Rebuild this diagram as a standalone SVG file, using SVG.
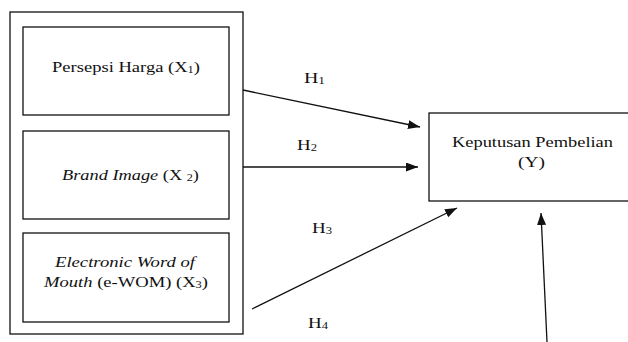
<svg xmlns="http://www.w3.org/2000/svg" width="628" height="342" viewBox="0 0 628 342">
  <style>
    .box { fill: #ffffff; stroke: #111111; stroke-width: 1.3; }
    .lbl { font-family: "Liberation Serif", "Times New Roman", serif; font-size: 15px; fill: #111111; }
    .it { font-style: italic; }
    .sub { font-size: 10px; }
    .edge { stroke: #111111; stroke-width: 1.3; fill: none; marker-end: url(#head); }
  </style>
  <defs>
    <marker id="head" markerUnits="userSpaceOnUse" markerWidth="14" markerHeight="10" refX="12" refY="4.5" orient="auto">
      <path d="M0,0 L12,4.5 L0,9 Z" fill="#111111"/>
    </marker>
  </defs>
  <rect width="628" height="342" fill="#ffffff"/>

  <!-- frame around the independent variables -->
  <g id="frame-x">
    <rect class="box" x="10" y="12" width="233" height="322"/>
  </g>

  <g id="node-x1">
    <rect class="box" x="23" y="27" width="206" height="88"/>
    <text class="lbl" x="52" y="72" textLength="148" lengthAdjust="spacingAndGlyphs">Persepsi Harga (X<tspan class="sub" dy="1">1</tspan><tspan dy="-1">)</tspan></text>
  </g>

  <g id="node-x2">
    <rect class="box" x="23" y="131" width="206" height="88"/>
    <text class="lbl" x="62" y="180" textLength="137" lengthAdjust="spacingAndGlyphs"><tspan class="it">Brand Image</tspan> (X <tspan class="sub" dy="1">2</tspan><tspan dy="-1">)</tspan></text>
  </g>

  <g id="node-x3">
    <rect class="box" x="23" y="233" width="206" height="89"/>
    <text class="lbl it" x="55" y="267" textLength="140" lengthAdjust="spacingAndGlyphs">Electronic Word of</text>
    <text class="lbl" x="44" y="287" textLength="164" lengthAdjust="spacingAndGlyphs"><tspan class="it">Mouth</tspan> (e-WOM) (X<tspan class="sub" dy="1">3</tspan><tspan dy="-1">)</tspan></text>
  </g>

  <g id="node-y">
    <rect class="box" x="429" y="113" width="206" height="88"/>
    <text class="lbl" x="452" y="147" textLength="161" lengthAdjust="spacingAndGlyphs">Keputusan Pembelian</text>
    <text class="lbl" x="518" y="167" textLength="27" lengthAdjust="spacingAndGlyphs">(Y)</text>
  </g>

  <g id="connectors">
    <line class="edge" x1="243" y1="90" x2="420" y2="127"/>
    <line class="edge" x1="243" y1="167" x2="418" y2="167"/>
    <line class="edge" x1="252" y1="309" x2="457" y2="208"/>
    <line class="edge" x1="547" y1="342" x2="541" y2="213"/>
    <g class="lbl">
      <text x="304" y="83" textLength="21" lengthAdjust="spacingAndGlyphs">H<tspan class="sub" dy="1">1</tspan></text>
      <text x="297" y="150" textLength="20" lengthAdjust="spacingAndGlyphs">H<tspan class="sub" dy="1">2</tspan></text>
      <text x="312" y="233" textLength="20" lengthAdjust="spacingAndGlyphs">H<tspan class="sub" dy="1">3</tspan></text>
      <text x="308" y="328" textLength="20" lengthAdjust="spacingAndGlyphs">H<tspan class="sub" dy="1">4</tspan></text>
    </g>
  </g>
</svg>
